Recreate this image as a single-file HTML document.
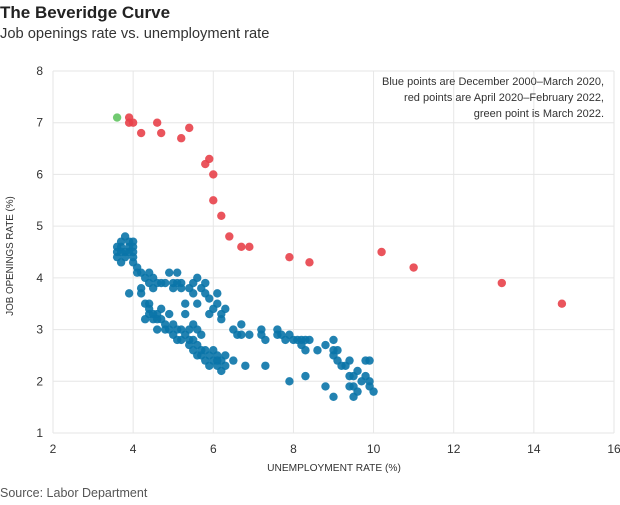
<!DOCTYPE html>
<html><head><meta charset="utf-8">
<style>
body{margin:0;background:#fff;font-family:"Liberation Sans",sans-serif;}
svg text{font-family:"Liberation Sans",sans-serif;}
</style></head>
<body>
<svg id="chart" width="620" height="500" viewBox="0 0 620 500">
<text x="0" y="18" font-size="17" font-weight="bold" fill="#222">The Beveridge Curve</text>
<text x="0" y="38" font-size="14.7" fill="#333">Job openings rate vs. unemployment rate</text>
<g id="grid"></g>
<g id="axes"></g>
<g id="pts"></g>
<g font-size="11" fill="#333" text-anchor="end">
<text x="604" y="85">Blue points are December 2000–March 2020,</text>
<text x="604" y="101">red points are April 2020–February 2022,</text>
<text x="604" y="117">green point is March 2022.</text>
</g>
<text x="334" y="471" font-size="10.2" fill="#333" text-anchor="middle">UNEMPLOYMENT RATE (%)</text>
<text transform="translate(13,256) rotate(-90)" font-size="9.8" fill="#333" text-anchor="middle">JOB OPENINGS RATE (%)</text>
<text x="0" y="497" font-size="12.5" fill="#555">Source: Labor Department</text>
</svg>
<script>
const xTicks=[2,4,6,8,10,12,14,16];
const yTicks=[1,2,3,4,5,6,7,8];
const blueX=[3.6,3.6,3.7,3.7,3.8,3.8,3.9,3.9,4.0,4.0,3.7,3.8,3.6,3.9,4.0,3.7,4.0,4.0,4.1,4.1,4.2,4.3,4.4,4.4,4.5,3.9,4.2,4.2,4.5,
4.6,4.7,4.8,4.9,5.0,5.0,5.1,5.1,5.2,5.2,5.3,5.4,5.5,5.5,5.6,5.6,5.7,5.8,5.8,5.9,5.9,6.0,6.1,6.1,6.2,6.2,6.3,6.5,6.6,6.7,6.7,6.9,4.3,4.4,
4.3,4.4,4.4,4.5,4.5,4.6,4.6,4.7,4.7,4.8,4.8,4.9,5.0,5.0,5.1,5.1,5.2,5.2,5.3,5.4,5.4,5.5,5.5,5.6,5.6,5.7,5.7,5.8,5.8,5.9,5.9,6.0,6.0,6.1,6.1,6.2,6.2,6.3,6.5,6.8,7.3,5.3,5.5,5.6,5.7,5.4,4.9,4.6,
7.2,7.2,7.3,7.6,7.6,7.7,7.8,7.9,8.0,8.1,8.2,8.2,8.3,8.3,8.4,8.6,8.8,9.0,9.0,9.0,9.1,9.1,9.2,9.3,9.4,9.4,9.5,9.6,9.8,9.9,9.8,9.9,9.9,10.0,9.7,9.5,9.4,9.6,9.5,9.0,8.8,8.3,7.9,6.3,6.1];
const blueY=[4.5,4.4,4.6,4.7,4.8,4.5,4.7,4.6,4.7,4.6,4.3,4.4,4.6,4.5,4.5,4.5,4.4,4.3,4.2,4.1,4.1,4.0,4.1,3.9,4.0,3.7,3.8,3.7,3.8,
3.9,3.9,3.9,4.1,3.9,3.8,3.9,4.1,3.9,3.8,3.5,3.8,3.7,3.9,4.0,3.5,3.8,3.7,3.9,3.6,3.3,3.4,3.7,3.5,3.2,3.3,3.4,3.0,2.9,3.1,2.9,2.9,3.5,3.5,
3.2,3.3,3.4,3.2,3.3,3.3,3.2,3.4,3.2,3.1,3.0,3.0,3.1,2.9,3.0,2.8,3.0,2.8,2.9,2.8,2.7,2.6,2.8,2.5,2.7,2.6,2.5,2.6,2.4,2.3,2.5,2.4,2.6,2.3,2.5,2.2,2.4,2.5,2.4,2.3,2.3,3.3,3.1,3.0,2.9,3.0,3.3,3.0,
3.0,2.9,2.8,3.0,2.9,2.9,2.8,2.9,2.8,2.8,2.8,2.7,2.8,2.6,2.8,2.6,2.7,2.8,2.6,2.5,2.6,2.4,2.3,2.3,2.4,2.1,2.1,2.2,2.4,2.4,2.1,2.0,1.9,1.8,2.0,1.9,1.9,1.8,1.7,1.7,1.9,2.1,2.0,2.3,2.4];
const redX=[3.9,3.9,4.0,4.2,4.6,4.7,5.2,5.4,5.8,5.9,6.0,6.0,6.2,6.4,6.7,6.9,7.9,8.4,10.2,11.0,13.2,14.7];
const redY=[7.0,7.1,7.0,6.8,7.0,6.8,6.7,6.9,6.2,6.3,6.0,5.5,5.2,4.8,4.6,4.6,4.4,4.3,4.5,4.2,3.9,3.5];
const greenX=[3.6];
const greenY=[7.1];
const NS='http://www.w3.org/2000/svg';
const L=53,R=614,T=71,B=433;
const xs=v=>L+(v-2)/(16-2)*(R-L);
const ys=v=>B-(v-1)/(8-1)*(B-T);
function mk(tag,attrs,parent){const e=document.createElementNS(NS,tag);for(const k in attrs)e.setAttribute(k,attrs[k]);parent.appendChild(e);return e;}
const grid=document.getElementById('grid'),axes=document.getElementById('axes'),pts=document.getElementById('pts');
yTicks.forEach(v=>{
 const l=mk('line',{x1:L,x2:R,y1:ys(v),y2:ys(v),stroke:'#e6e6e6','stroke-width':1},grid);
 
 
 const t=mk('text',{x:L-10,y:ys(v)+4,'font-size':12,fill:'#333','text-anchor':'end'},axes);
 t.textContent=v;
 
 
});
xTicks.forEach(v=>{
 const l=mk('line',{x1:xs(v),x2:xs(v),y1:T,y2:B,stroke:'#e6e6e6','stroke-width':1},grid);
 
 
 const t=mk('text',{x:xs(v),y:453,'font-size':12,fill:'#333','text-anchor':'middle'},axes);
 t.textContent=v;
 
 
});
function series(X,Y,color,name){
 X.forEach((x,i)=>{
  const c=mk('circle',{cx:xs(x),cy:ys(Y[i]),r:4.2,fill:color,'fill-opacity':0.9},pts);
  
  
 });
}
series(blueX,blueY,'#0a74a8','blue-point');
series(redX,redY,'#e8414a','red-point');
series(greenX,greenY,'#62c462','green-point');
</script>
</body></html>
